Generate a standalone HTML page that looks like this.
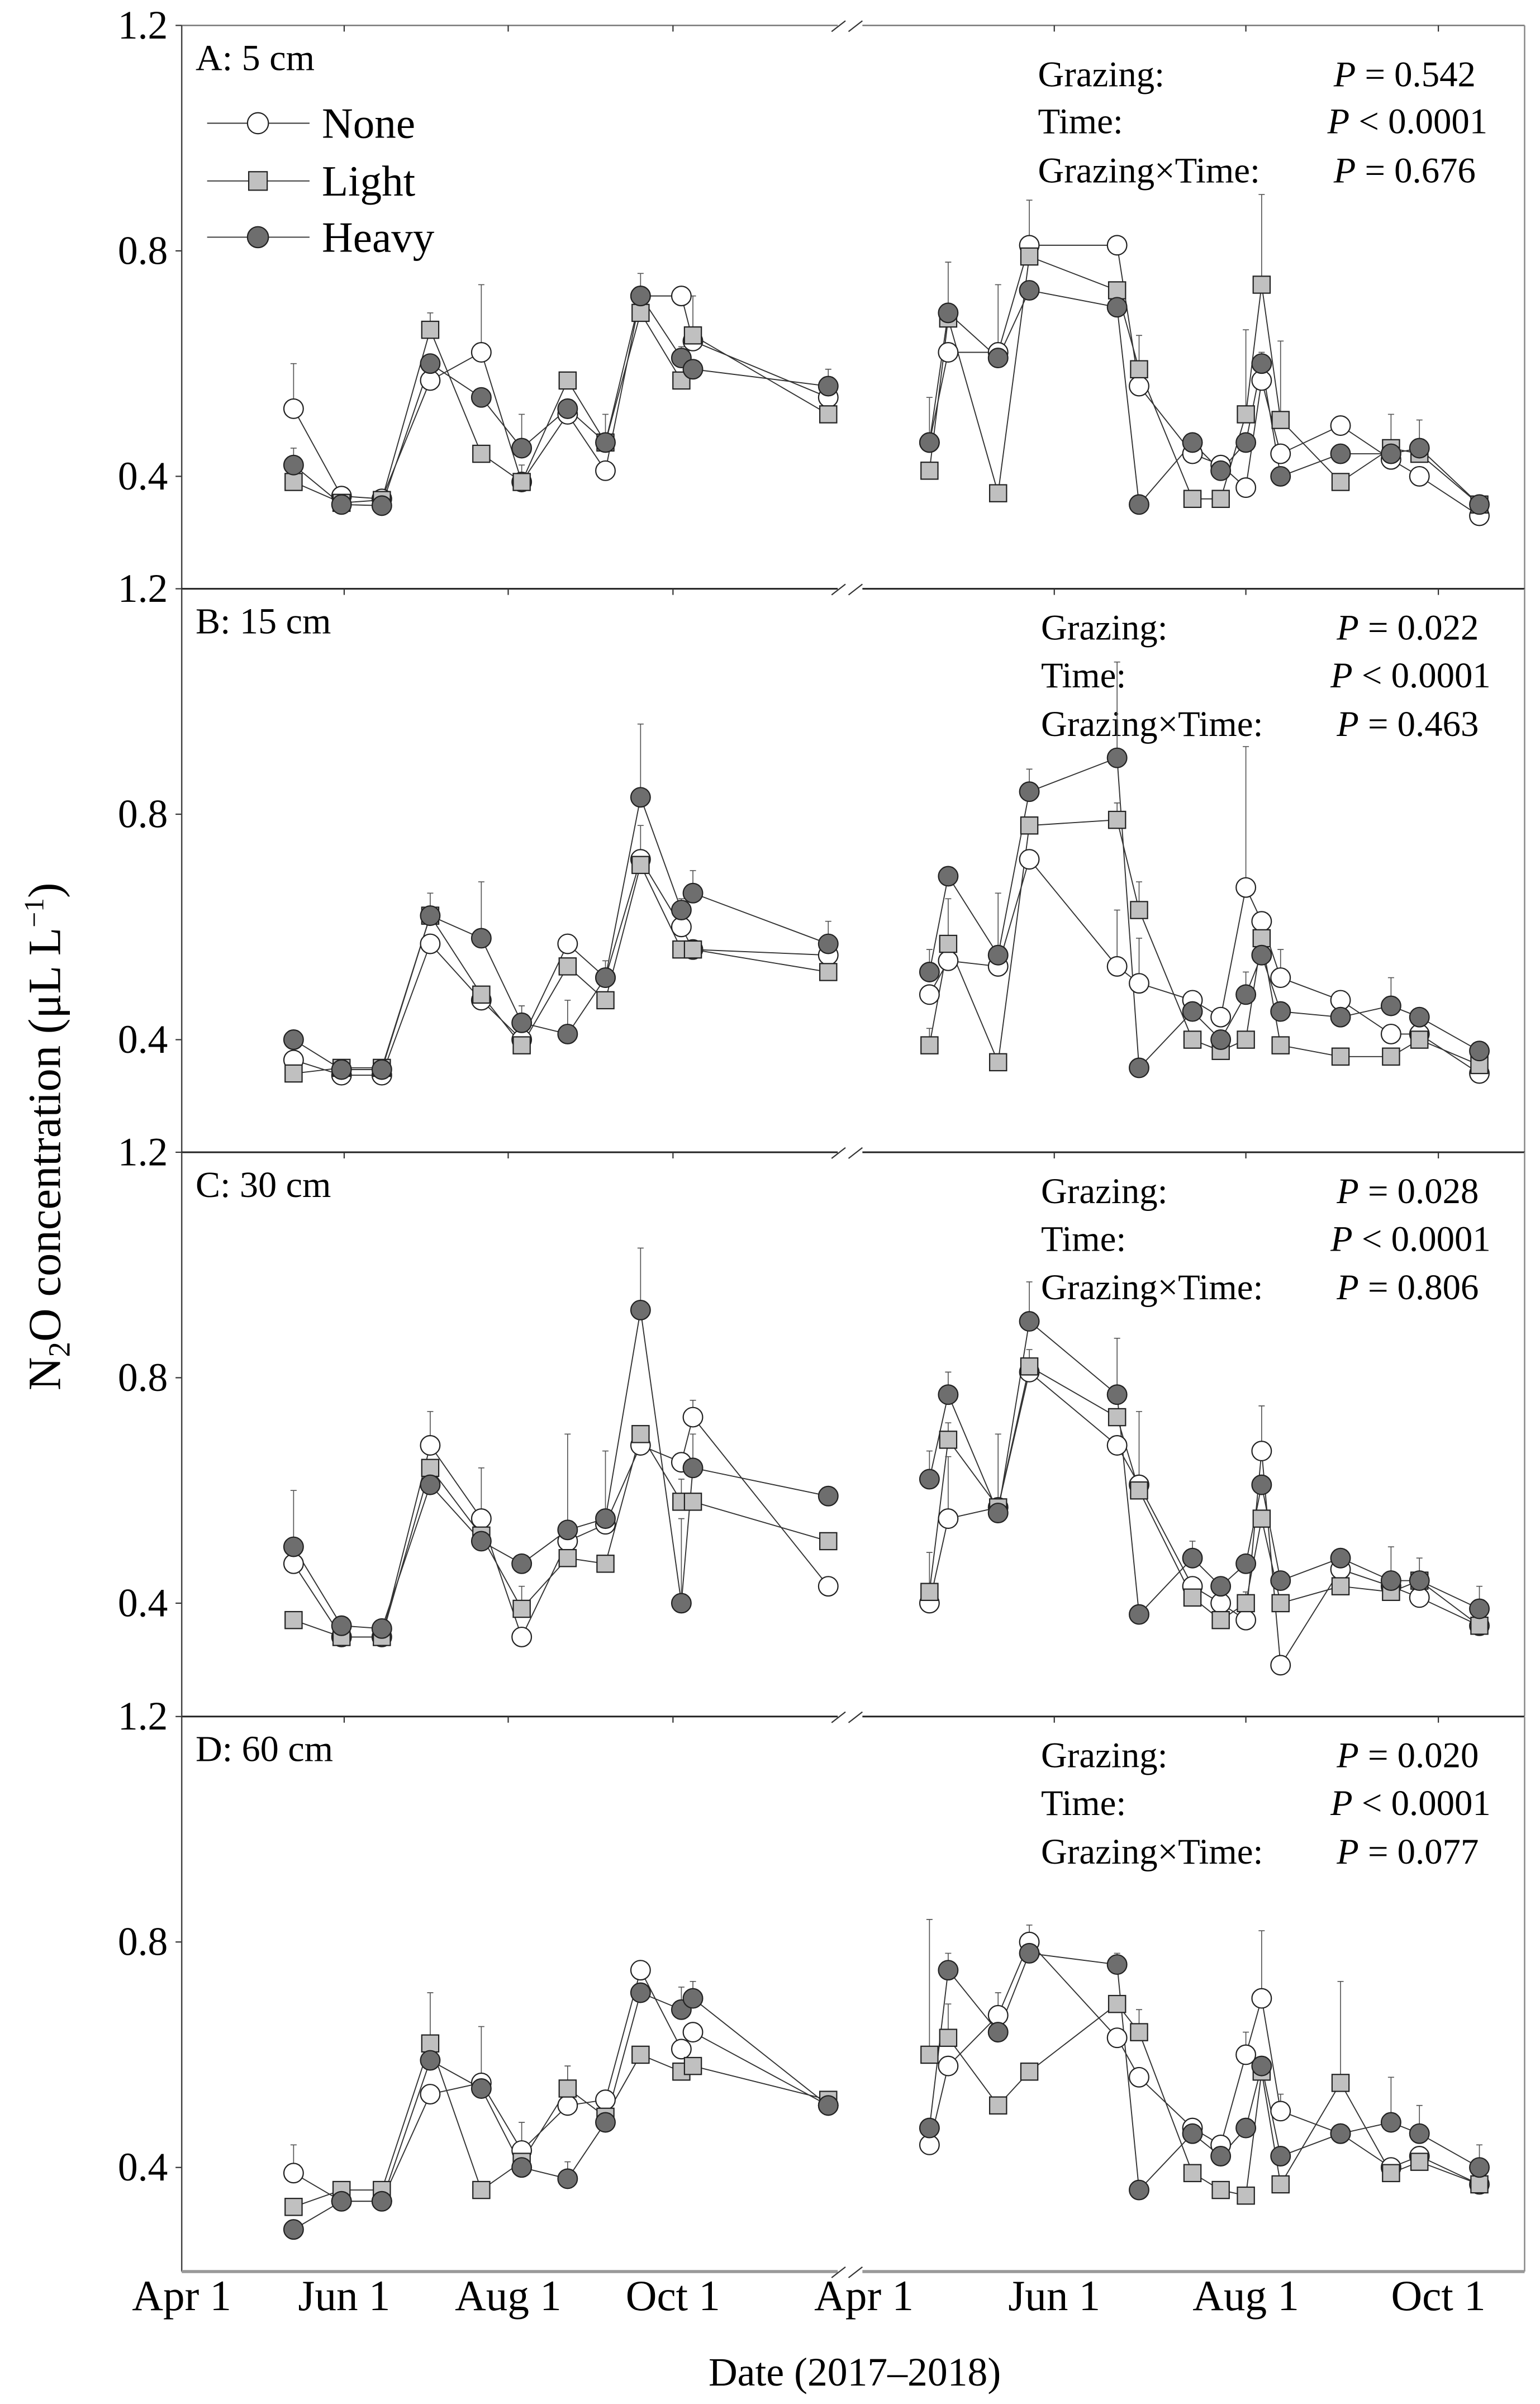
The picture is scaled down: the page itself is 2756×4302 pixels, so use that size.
<!DOCTYPE html>
<html><head><meta charset="utf-8"><title>N2O concentration by depth</title>
<style>
html,body{margin:0;padding:0;background:#fff;}
svg{display:block;}
text{font-family:"Liberation Serif","DejaVu Serif",serif;fill:#000;}
</style></head>
<body>
<svg id="chart" xmlns="http://www.w3.org/2000/svg" width="2756" height="4302" viewBox="0 0 1000 1561" preserveAspectRatio="none"></svg>
<script>
// ---- data ----
const sampleDays = [42,60,75,93,112,127,144,158,171,191,202,331, 386,392,408,418,446,453,470,479,487,492,498,517,533,542,561];
const seriesNames = ["None","Light","Heavy"];
const panelLabels = ["A: 5 cm","B: 15 cm","C: 30 cm","D: 60 cm"];
const pGrazing = ["P = 0.542","P = 0.022","P = 0.028","P = 0.020"];
const pTime = ["P < 0.0001","P < 0.0001","P < 0.0001","P < 0.0001"];
const pInter = ["P = 0.676","P = 0.463","P = 0.806","P = 0.077"];
const yTicks = [0.4,0.8,1.2];
const xTickDays = [0,61,122,183,365,426,487,548];
const xTickLabels = ["Apr 1","Jun 1","Aug 1","Oct 1","Apr 1","Jun 1","Aug 1","Oct 1"];

const noneA  = [0.52,0.365,0.36,0.57,0.62,0.39,0.51,0.41,0.72,0.72,0.64,0.54, 0.46,0.62,0.62,0.81,0.81,0.56,0.44,0.42,0.38,0.57,0.44,0.49,0.43,0.40,0.33];
const lightA = [0.39,0.353,0.358,0.66,0.44,0.39,0.57,0.46,0.69,0.57,0.65,0.51, 0.41,0.68,0.37,0.79,0.73,0.59,0.36,0.36,0.51,0.74,0.50,0.39,0.45,0.44,0.35];
const heavyA = [0.42,0.35,0.348,0.60,0.54,0.45,0.52,0.46,0.72,0.61,0.59,0.56, 0.46,0.69,0.61,0.73,0.70,0.35,0.46,0.41,0.46,0.60,0.40,0.44,0.44,0.45,0.35];
const errNoneA  = [0.08,0.01,0.01,0.01,0.12,0.01,0.01,0.01,0.01,0.01,0.01,0.01, 0.01,0.01,0.01,0.08,0.01,0.01,0.01,0.01,0.01,0.04,0.01,0.01,0.01,0.01,0.01];
const errLightA = [0.01,0.01,0.01,0.03,0.01,0.03,0.01,0.01,0.01,0.01,0.07,0.01, 0.01,0.10,0.01,0.03,0.01,0.06,0.01,0.01,0.15,0.16,0.14,0.01,0.06,0.06,0.01];
const errHeavyA = [0.03,0.01,0.01,0.01,0.01,0.06,0.01,0.05,0.04,0.02,0.01,0.03, 0.08,0.01,0.13,0.01,0.01,0.01,0.01,0.01,0.01,0.02,0.01,0.01,0.01,0.01,0.01];

const noneB  = [0.364,0.337,0.337,0.57,0.47,0.40,0.57,0.51,0.72,0.60,0.56,0.55, 0.48,0.54,0.53,0.72,0.53,0.50,0.47,0.44,0.67,0.61,0.51,0.47,0.41,0.41,0.34];
const lightB = [0.34,0.35,0.35,0.62,0.48,0.39,0.53,0.47,0.71,0.56,0.56,0.52, 0.39,0.57,0.36,0.78,0.79,0.63,0.40,0.38,0.40,0.58,0.39,0.37,0.37,0.40,0.355];
const heavyB = [0.40,0.347,0.347,0.62,0.58,0.43,0.41,0.51,0.83,0.63,0.66,0.57, 0.52,0.69,0.55,0.84,0.90,0.35,0.45,0.40,0.48,0.55,0.45,0.44,0.46,0.44,0.38];
const errNoneB  = [0.01,0.01,0.01,0.01,0.01,0.01,0.01,0.01,0.06,0.01,0.01,0.01, 0.01,0.01,0.01,0.01,0.10,0.08,0.01,0.01,0.25,0.01,0.05,0.01,0.01,0.01,0.01];
const errLightB = [0.01,0.01,0.01,0.04,0.01,0.01,0.01,0.01,0.01,0.01,0.01,0.01, 0.03,0.08,0.01,0.01,0.03,0.05,0.01,0.01,0.01,0.01,0.01,0.01,0.01,0.01,0.01];
const errHeavyB = [0.01,0.01,0.01,0.01,0.10,0.03,0.06,0.03,0.13,0.02,0.04,0.04, 0.04,0.01,0.11,0.04,0.17,0.01,0.01,0.01,0.04,0.01,0.01,0.01,0.05,0.01,0.01];

const noneC  = [0.47,0.34,0.34,0.68,0.55,0.34,0.51,0.54,0.68,0.65,0.73,0.43, 0.40,0.55,0.57,0.81,0.68,0.61,0.43,0.40,0.37,0.67,0.29,0.46,0.43,0.41,0.36];
const lightC = [0.37,0.34,0.34,0.64,0.52,0.39,0.48,0.47,0.70,0.58,0.58,0.51, 0.42,0.69,0.57,0.82,0.73,0.60,0.41,0.37,0.40,0.55,0.40,0.43,0.42,0.44,0.36];
const heavyC = [0.50,0.36,0.355,0.61,0.51,0.47,0.53,0.55,0.92,0.40,0.64,0.59, 0.62,0.77,0.56,0.90,0.77,0.38,0.48,0.43,0.47,0.61,0.44,0.48,0.44,0.44,0.39];
const errNoneC  = [0.01,0.01,0.01,0.06,0.09,0.01,0.01,0.01,0.01,0.01,0.03,0.01, 0.01,0.11,0.01,0.01,0.01,0.13,0.01,0.01,0.01,0.08,0.01,0.01,0.01,0.01,0.01];
const errLightC = [0.01,0.01,0.01,0.01,0.01,0.04,0.01,0.01,0.01,0.04,0.01,0.01, 0.07,0.03,0.13,0.03,0.01,0.01,0.01,0.01,0.02,0.01,0.01,0.01,0.01,0.04,0.01];
const errHeavyC = [0.10,0.01,0.01,0.01,0.01,0.01,0.17,0.12,0.11,0.15,0.06,0.01, 0.05,0.04,0.01,0.07,0.10,0.01,0.03,0.01,0.01,0.01,0.01,0.01,0.06,0.01,0.04];

const noneD  = [0.39,0.34,0.34,0.53,0.55,0.43,0.51,0.52,0.75,0.61,0.64,0.51, 0.44,0.58,0.67,0.80,0.63,0.56,0.47,0.44,0.60,0.70,0.50,0.46,0.40,0.42,0.37];
const lightD = [0.33,0.36,0.36,0.62,0.36,0.41,0.54,0.49,0.60,0.57,0.58,0.52, 0.60,0.63,0.51,0.57,0.69,0.64,0.39,0.36,0.35,0.57,0.37,0.55,0.39,0.41,0.37];
const heavyD = [0.29,0.34,0.34,0.59,0.54,0.40,0.38,0.48,0.71,0.68,0.70,0.51, 0.47,0.75,0.64,0.78,0.76,0.36,0.46,0.42,0.47,0.58,0.42,0.46,0.48,0.46,0.40];
const errNoneD  = [0.05,0.01,0.01,0.01,0.10,0.05,0.01,0.01,0.01,0.01,0.01,0.01, 0.01,0.01,0.04,0.03,0.01,0.01,0.01,0.01,0.04,0.12,0.03,0.01,0.01,0.01,0.01];
const errLightD = [0.01,0.01,0.01,0.09,0.01,0.01,0.04,0.01,0.01,0.01,0.01,0.01, 0.24,0.06,0.01,0.01,0.01,0.04,0.01,0.01,0.01,0.01,0.01,0.18,0.01,0.01,0.01];
const errHeavyD = [0.01,0.01,0.01,0.01,0.01,0.01,0.03,0.01,0.01,0.04,0.03,0.01, 0.01,0.03,0.01,0.01,0.02,0.01,0.01,0.01,0.01,0.01,0.01,0.01,0.08,0.05,0.04];

const panelValues = [[noneA,lightA,heavyA],[noneB,lightB,heavyB],[noneC,lightC,heavyC],[noneD,lightD,heavyD]];
const panelErrors = [[errNoneA,errLightA,errHeavyA],[errNoneB,errLightB,errHeavyB],[errNoneC,errLightC,errHeavyC],[errNoneD,errLightD,errHeavyD]];

// ---- layout ----
const NS = "http://www.w3.org/2000/svg";
const svg = document.getElementById("chart");
const L = 118, R = 990;
const panelTop = [16.5, 382.3, 748.2, 1114.6];
const panelH = [366, 366, 366, 360.4];
const pxPer = 366;
const knotDays = [0,61,122,183,365,426,487,548];
const knotPx = [118,223.5,330,437,561,684.6,809,934];
const breakX = 552;
const fills = ["#ffffff","#c0c0c0","#6e6e6e"];

function xScale(d){
  for(let i=0;i<knotDays.length-1;i++){
    if(d<=knotDays[i+1]){
      return knotPx[i]+(d-knotDays[i])*(knotPx[i+1]-knotPx[i])/(knotDays[i+1]-knotDays[i]);
    }
  }
  const n=knotDays.length-1;
  return knotPx[n]+(d-knotDays[n])*(knotPx[n]-knotPx[n-1])/(knotDays[n]-knotDays[n-1]);
}
function yScale(p,v){ return panelTop[p] + (1.2 - v)*pxPer; }

function mk(tag, attrs, parent){
  const e=document.createElementNS(NS,tag);
  for(const k in attrs) e.setAttribute(k,attrs[k]);
  (parent||svg).appendChild(e);
  return e;
}

for(let p=0;p<4;p++){
  const g=mk("g",{});
  
  
  const top=panelTop[p], bot=top+panelH[p];
  mk("line",{x1:L,y1:top,x2:R,y2:top,stroke:p===0?"#777":"#222","stroke-width":p===0?0.9:1.1},g);
  mk("line",{x1:L,y1:top,x2:L,y2:bot,stroke:"#444","stroke-width":0.9},g);
  mk("line",{x1:R,y1:top,x2:R,y2:bot,stroke:"#888","stroke-width":0.9},g);
  if(p===3){
    const bl=mk("line",{x1:L,y1:bot,x2:R,y2:bot,stroke:"#999","stroke-width":2},g);
    
    
  }
  const gapY=top;
  mk("rect",{x:breakX-8,y:gapY-2,width:16,height:4,fill:"#fff"},g);
  mk("line",{x1:breakX-12,y1:gapY+4,x2:breakX-3,y2:gapY-3,stroke:"#333","stroke-width":0.8},g);
  mk("line",{x1:breakX-1,y1:gapY+4,x2:breakX+8,y2:gapY-3,stroke:"#333","stroke-width":0.8},g);
  if(p===3){
    mk("rect",{x:breakX-8,y:bot-2,width:16,height:4,fill:"#fff"},g);
    mk("line",{x1:breakX-12,y1:bot+4,x2:breakX-3,y2:bot-3,stroke:"#333","stroke-width":0.8},g);
    mk("line",{x1:breakX-1,y1:bot+4,x2:breakX+8,y2:bot-3,stroke:"#333","stroke-width":0.8},g);
  }
  xTickDays.forEach((d,i)=>{
    if(i===0||i===4) return;
    const x=xScale(d);
    mk("line",{x1:x,y1:top,x2:x,y2:top+4,stroke:"#333","stroke-width":0.8},g);
  });
  yTicks.forEach(v=>{
    const y=yScale(p,v);
    mk("line",{x1:L-4,y1:y,x2:L,y2:y,stroke:"#333","stroke-width":0.8},g);
    const t=mk("text",{x:109,y:y+8.5,"text-anchor":"end","font-size":26},g);
    t.textContent=v.toFixed(1);
    
    
  });
  const pl=mk("text",{x:127,y:top+29,"font-size":24},g);
  pl.textContent=panelLabels[p];
  
  
  const off = p===0?[39.5,70,102]:[33,64,95.5];
  const sx = p===0?674:676;
  const lbls=["Grazing:","Time:","Grazing×Time:"];
  const vals=[pGrazing[p],pTime[p],pInter[p]];
  for(let r=0;r<3;r++){
    const st=mk("text",{x:sx,y:top+off[r],"font-size":23.5},g);
    st.textContent=lbls[r];
    
    
    const sv=mk("text",{x:(r===1?862:866)+(p===0?0:2),y:top+off[r],"font-size":23.5},g);
    const s=vals[r];
    const ti=document.createElementNS(NS,"tspan"); ti.setAttribute("font-style","italic"); ti.textContent="P"; sv.appendChild(ti);
    sv.appendChild(document.createTextNode(s.slice(1)));
    
    
  }
  const vals3=panelValues[p], errs3=panelErrors[p];
  for(let s=0;s<3;s++){
    const segs=[[0,12],[12,27]];
    segs.forEach(([a,b])=>{
      let d="";
      for(let i=a;i<b;i++){ d+=(i===a?"M":"L")+xScale(sampleDays[i]).toFixed(2)+","+yScale(p,vals3[s][i]).toFixed(2); }
      const ln=mk("path",{d:d,fill:"none",stroke:"#333","stroke-width":0.7},g);
      
      
    });
  }
  for(let s=0;s<3;s++){
    for(let i=0;i<sampleDays.length;i++){
      const x=xScale(sampleDays[i]), y0=yScale(p,vals3[s][i]), y1=yScale(p,vals3[s][i]+errs3[s][i]);
      const eb=mk("path",{d:`M${x},${y0}L${x},${y1}M${x-2},${y1}L${x+2},${y1}`,stroke:"#555","stroke-width":0.6,fill:"none"},g);
      
      
    }
  }
  for(let s=0;s<3;s++){
    for(let i=0;i<sampleDays.length;i++){
      const x=xScale(sampleDays[i]), y=yScale(p,vals3[s][i]);
      let m;
      if(s===1){ m=mk("rect",{x:x-5.5,y:y-5.5,width:11,height:11,fill:fills[s],stroke:"#222","stroke-width":0.8},g); }
      else { m=mk("circle",{cx:x,cy:y,r:6.3,fill:fills[s],stroke:"#222","stroke-width":0.8},g); }
      
      
    }
  }
}

const lg=mk("g",{});


const legY=[80,117.5,154];
for(let s=0;s<3;s++){
  const e=mk("g",{},lg);
  
  
  mk("line",{x1:134.5,y1:legY[s],x2:201,y2:legY[s],stroke:"#333","stroke-width":0.7},e);
  if(s===1) mk("rect",{x:161.5,y:legY[s]-6,width:12,height:12,fill:fills[s],stroke:"#222","stroke-width":0.8},e);
  else mk("circle",{cx:167.5,cy:legY[s],r:6.8,fill:fills[s],stroke:"#222","stroke-width":0.8},e);
  const t=mk("text",{x:209,y:legY[s]+9.5,"font-size":28},e);
  t.textContent=seriesNames[s];
}

xTickDays.forEach((d,i)=>{
  const t=mk("text",{x:xScale(d),y:1500,"text-anchor":"middle","font-size":28});
  t.textContent=xTickLabels[i];
  
  
});
const xt=mk("text",{x:555,y:1549,"text-anchor":"middle","font-size":26});
xt.textContent="Date (2017–2018)";



const yt=mk("text",{x:0,y:0,"text-anchor":"middle","font-size":30,transform:"translate(39,738) rotate(-90)"});


const parts=[["N",0],["2",1],["O concentration (μL L",0],["−1",2],[")",0]];
parts.forEach(([s,k])=>{
  const ts=document.createElementNS(NS,"tspan");
  ts.textContent=s;
  if(k===1){ ts.setAttribute("baseline-shift","-30%"); ts.setAttribute("font-size","20"); }
  if(k===2){ ts.setAttribute("baseline-shift","60%"); ts.setAttribute("font-size","18"); }
  yt.appendChild(ts);
});
</script>
</body></html>
